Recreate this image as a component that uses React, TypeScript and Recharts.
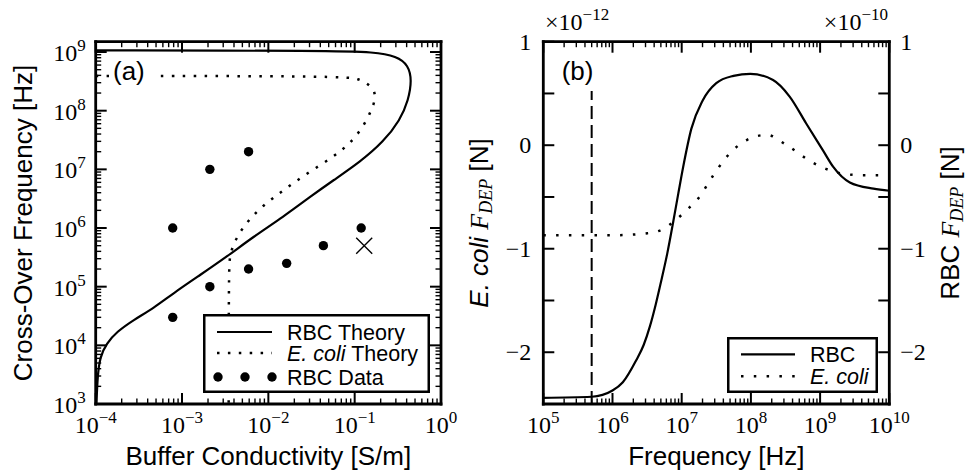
import React from 'react';
import { ComposedChart, Line, Scatter, XAxis, YAxis, Legend, ReferenceLine } from 'recharts';

const SANS = '"Liberation Sans", Arial, Helvetica, sans-serif';
const SERIF = '"Liberation Serif", "Times New Roman", serif';

// ---- panel (a): cross-over frequency vs buffer conductivity ----
const rbcTheorySigma = [1.02e-4, 1.05e-4, 1.12e-4, 1.34e-4, 1.75e-4, 2.73e-4, 4.65e-4, 7.9e-4, 1.62e-3, 3.3e-3, 6.7e-3, 0.0149, 0.0304, 0.0566, 0.1156, 0.215, 0.336, 0.419, 0.459, 0.419, 0.308, 0.165, 0.0566, 1e-4];
const rbcTheoryFreq = [1e3, 2.9e3, 6.4e3, 1.08e4, 1.7e4, 2.7e4, 4.27e4, 7.7e4, 1.58e5, 3.24e5, 7.1e5, 1.55e6, 3.4e6, 6.5e6, 1.34e7, 2.94e7, 6.9e7, 1.51e8, 3.3e8, 5.96e8, 8.5e8, 1.0e9, 1.05e9, 1.07e9];

const ecoliTheorySigma = [1e-4, 0.081, 0.11, 0.138, 0.172, 0.172, 0.158, 0.126, 0.0885, 0.0566, 0.0279, 0.0149, 8.75e-3, 5.86e-3, 4.3e-3, 3.6e-3, 3.48e-3, 3.47e-3];
const ecoliTheoryFreq = [3.9e8, 3.9e8, 3.44e8, 2.98e8, 2.23e8, 1.51e8, 1.05e8, 5.3e7, 2.76e7, 1.63e7, 8.5e6, 4.4e6, 2.45e6, 1.36e6, 7.1e5, 3.7e5, 2.18e5, 1e3];

const rbcDataSigma = [7.8e-4, 7.8e-4, 2.1e-3, 2.1e-3, 5.9e-3, 5.9e-3, 0.0163, 0.0434, 0.119];
const rbcDataFreq = [3e4, 1e6, 1e5, 1e7, 2e5, 2e7, 2.5e5, 5e5, 1e6];
const outlierSigma = [0.129];
const outlierFreq = [5e5];

// ---- panel (b): DEP force vs frequency ----
const rbcForceFreq = [1e5, 5e5, 1e6, 1.41e6, 2.19e6, 2.82e6, 3.47e6, 4.17e6, 4.9e6, 6.17e6, 7.59e6, 8.91e6, 1.05e7, 1.38e7, 2.0e7, 3.16e7, 5.6e7, 9.8e7, 2.09e8, 3.63e8, 6.3e8, 1.1e9, 1.55e9, 2.69e9, 5.9e9, 1e10];
const rbcForce = [-2.44, -2.43, -2.37, -2.29, -2.08, -1.93, -1.75, -1.55, -1.35, -1.05, -0.73, -0.47, -0.21, 0.16, 0.43, 0.6, 0.67, 0.69, 0.63, 0.47, 0.21, -0.05, -0.21, -0.36, -0.42, -0.44]; // x1e-10 N

const ecoliForceFreq = [1e5, 1e6, 3.2e6, 5.4e6, 7.6e6, 1.3e7, 1.66e7, 2.8e7, 4.5e7, 8.7e7, 1.7e8, 3.3e8, 7.9e8, 1.95e9, 4e9, 1e10];
const ecoliForce = [-0.87, -0.87, -0.85, -0.81, -0.74, -0.6, -0.53, -0.3, -0.11, 0.05, 0.1, 0.0, -0.17, -0.27, -0.29, -0.29]; // x1e-12 N

const markerFreq = 5e5;
const markerTop = 0.53;

// tick label text
const forceTicks = [-2.5, -2, -1.5, -1, -0.5, 0, 0.5, 1];
const forceLabels: Record<string, string> = { '-2': '−2', '-1': '−1', '0': '0', '1': '1' };

const logTicks = (lo: number, hi: number) => {
  const t: number[] = [];
  for (let e = lo; e < hi; e++) for (let m = 1; m < 10; m++) t.push(m * 10 ** e);
  t.push(10 ** hi);
  return t;
};
const sigmaTicks = logTicks(-4, 0);
const freqTicksA = logTicks(3, 9);
const freqTicksB = logTicks(5, 10);

const rbcTheory = rbcTheorySigma.map((s, i) => ({ sigma: s, freq: rbcTheoryFreq[i] }));
const ecoliTheory = ecoliTheorySigma.map((s, i) => ({ sigma: s, freq: ecoliTheoryFreq[i] }));
const rbcData = rbcDataSigma.map((s, i) => ({ sigma: s, freq: rbcDataFreq[i] }));
const outlier = outlierSigma.map((s, i) => ({ sigma: s, freq: outlierFreq[i] }));
const rbcForceData = rbcForceFreq.map((f, i) => ({ freq: f, force: rbcForce[i] }));
const ecoliForceData = ecoliForceFreq.map((f, i) => ({ freq: f, force: ecoliForce[i] }));

const isDecade = (v: number) => Math.abs(Math.log10(v) - Math.round(Math.log10(v))) < 1e-6;
const supText = (e: number) => (e < 0 ? `−${-e}` : `${e}`);

function Pow10({ x, y, exp, anchor, prefix = '' }: any) {
  return (
    <text x={x} y={y} textAnchor={anchor} fontFamily={SERIF} fontSize={24} fill="#000">
      {prefix}10
      <tspan dy={-10} fontSize={17}>{supText(exp)}</tspan>
    </text>
  );
}

const MAJOR = 11;
const MINOR = 5.5;
const TICK_COLOR = '#000';

// side: where the axis is; ticks point into the plot
const makeTick = (side: 'bottom' | 'top' | 'left' | 'right', kind: 'log' | 'lin', label: boolean) => (p: any) => {
  const v = Number(p.payload.value);
  const major = kind === 'lin' ? true : isDecade(v);
  const len = major ? MAJOR : MINOR;
  const x = Number(p.x);
  const y = Number(p.y);
  const sw = major ? 2 : 1.4;
  let d = '';
  if (side === 'bottom') d = `M${x},${y}V${y - len}`;
  else if (side === 'top') d = `M${x},${y}V${y + len}`;
  else if (side === 'left') d = `M${x},${y}H${x + len}`;
  else d = `M${x},${y}H${x - len}`;
  let text = null;
  if (label && kind === 'log' && major) {
    const e = Math.round(Math.log10(v));
    if (side === 'bottom') text = <Pow10 x={x} y={y + 29} exp={e} anchor="middle" />;
    if (side === 'left') text = <Pow10 x={x - 10} y={y + 9} exp={e} anchor="end" />;
  }
  if (label && kind === 'lin' && forceLabels[String(v)] !== undefined) {
    const s = forceLabels[String(v)];
    text = side === 'left'
      ? <text x={x - 12} y={y + 8} textAnchor="end" fontFamily={SERIF} fontSize={24} fill="#000">{s}</text>
      : <text x={x + 11} y={y + 8} textAnchor="start" fontFamily={SERIF} fontSize={24} fill="#000">{s}</text>;
  }
  return (
    <g>
      <path d={d} style={{ stroke: TICK_COLOR, strokeWidth: sw, fill: 'none' }} />
      {text}
    </g>
  );
};

const spine = { stroke: '#000', strokeWidth: 2.8, strokeLinecap: 'square' as const };

const DOT_A = '2.5 8.4';
const DOT_B = '2.5 10.3';

function LegendA() {
  return (
    <svg width={227} height={79} style={{ display: 'block' }}>
      <rect x={1.25} y={1.25} width={224.5} height={76.5} fill="#fff" stroke="#000" strokeWidth={2.5} />
      <line x1={14} x2={69} y1={18} y2={18} stroke="#000" strokeWidth={2.2} />
      <line x1={14} x2={69} y1={39} y2={39} stroke="#000" strokeWidth={2.5} strokeDasharray={DOT_A} />
      {[15, 42, 69].map((cx) => <circle key={cx} cx={cx} cy={63} r={4.7} fill="#000" />)}
      <text x={84} y={25.5} fontFamily={SANS} fontSize={21.5}>RBC Theory</text>
      <text x={84} y={46.5} fontFamily={SANS} fontSize={21.5}><tspan fontStyle="italic">E. coli</tspan><tspan> Theory</tspan></text>
      <text x={84} y={70.5} fontFamily={SANS} fontSize={21.5}>RBC Data</text>
    </svg>
  );
}

function LegendB() {
  return (
    <svg width={151} height={56} style={{ display: 'block' }}>
      <rect x={1.25} y={1.25} width={148.5} height={53.5} fill="#fff" stroke="#000" strokeWidth={2.5} />
      <line x1={14} x2={68} y1={17.3} y2={17.3} stroke="#000" strokeWidth={2.2} />
      <line x1={14} x2={68} y1={39.3} y2={39.3} stroke="#000" strokeWidth={2.5} strokeDasharray={DOT_B} />
      <text x={83} y={24.8} fontFamily={SANS} fontSize={21.5}>RBC</text>
      <text x={83} y={46.8} fontFamily={SANS} fontSize={21.5} fontStyle="italic">E. coli</text>
    </svg>
  );
}

const dotShape = (p: any) => <circle cx={p.cx} cy={p.cy} r={4.7} fill="#000" />;

const crossShape = (p: any) => (
  <path d={`M${p.cx - 8},${p.cy - 8}L${p.cx + 8},${p.cy + 8}M${p.cx - 8},${p.cy + 8}L${p.cx + 8},${p.cy - 8}`} stroke="#000" strokeWidth={1.4} fill="none" />
);

function PanelA() {
  return (
    <ComposedChart width={480} height={472} margin={{ top: 11.7, right: 9, bottom: 38, left: 55.7 }}>
      <XAxis xAxisId="b" orientation="bottom" dataKey="sigma" type="number" scale="log" domain={[1e-4, 1]} allowDataOverflow ticks={sigmaTicks} interval={0} height={30} tickSize={0} tickMargin={0} tickLine={false} axisLine={spine} tick={makeTick('bottom', 'log', true)} />
      <XAxis xAxisId="t" orientation="top" dataKey="sigma" type="number" scale="log" domain={[1e-4, 1]} allowDataOverflow ticks={sigmaTicks} interval={0} height={30} tickSize={0} tickMargin={0} tickLine={false} axisLine={spine} tick={makeTick('top', 'log', false)} />
      <YAxis yAxisId="l" orientation="left" dataKey="freq" type="number" scale="log" domain={[1e3, 1.5e9]} allowDataOverflow ticks={freqTicksA} interval={0} width={40} tickSize={0} tickMargin={0} tickLine={false} axisLine={spine} tick={makeTick('left', 'log', true)} />
      <YAxis yAxisId="r" orientation="right" dataKey="freq" type="number" scale="log" domain={[1e3, 1.5e9]} allowDataOverflow ticks={freqTicksA} interval={0} width={30} tickSize={0} tickMargin={0} tickLine={false} axisLine={spine} tick={makeTick('right', 'log', false)} />
      <Line xAxisId="b" yAxisId="l" data={rbcTheory} dataKey="freq" type="basis" stroke="#000" strokeWidth={2.2} dot={false} isAnimationActive={false} />
      <Line xAxisId="b" yAxisId="l" data={ecoliTheory} dataKey="freq" type="basis" stroke="#000" strokeWidth={2.5} strokeDasharray={DOT_A} dot={false} isAnimationActive={false} />
      <Scatter xAxisId="b" yAxisId="l" data={rbcData} dataKey="freq" shape={dotShape} isAnimationActive={false} />
      <Scatter xAxisId="b" yAxisId="l" data={outlier} dataKey="freq" shape={crossShape} isAnimationActive={false} />
      <Legend layout="vertical" align="center" verticalAlign="middle" content={LegendA} wrapperStyle={{ left: 203, top: 314, width: 227, height: 79 }} />
    </ComposedChart>
  );
}

function PanelB() {
  return (
    <ComposedChart width={489} height={472} margin={{ top: 11.7, right: 39.7, bottom: 38, left: 23.3 }}>
      <XAxis xAxisId="b" orientation="bottom" dataKey="freq" type="number" scale="log" domain={[1e5, 1e10]} allowDataOverflow ticks={freqTicksB} interval={0} height={30} tickSize={0} tickMargin={0} tickLine={false} axisLine={spine} tick={makeTick('bottom', 'log', true)} />
      <XAxis xAxisId="t" orientation="top" dataKey="freq" type="number" scale="log" domain={[1e5, 1e10]} allowDataOverflow ticks={freqTicksB} interval={0} height={30} tickSize={0} tickMargin={0} tickLine={false} axisLine={spine} tick={makeTick('top', 'log', false)} />
      <YAxis yAxisId="ecoli" orientation="left" type="number" domain={[-2.5, 1]} allowDataOverflow ticks={forceTicks} interval={0} width={40} tickSize={0} tickMargin={0} tickLine={false} axisLine={spine} tick={makeTick('left', 'lin', true)} />
      <YAxis yAxisId="rbc" orientation="right" type="number" domain={[-2.5, 1]} allowDataOverflow ticks={forceTicks} interval={0} width={40} tickSize={0} tickMargin={0} tickLine={false} axisLine={spine} tick={makeTick('right', 'lin', true)} />
      <ReferenceLine xAxisId="b" yAxisId="ecoli" segment={[{ x: markerFreq, y: -2.5 }, { x: markerFreq, y: markerTop }]} stroke="#000" strokeWidth={2} strokeDasharray="13 6" />
      <Line xAxisId="b" yAxisId="rbc" data={rbcForceData} dataKey="force" type="monotone" stroke="#000" strokeWidth={2.2} dot={false} isAnimationActive={false} />
      <Line xAxisId="b" yAxisId="ecoli" data={ecoliForceData} dataKey="force" type="monotone" stroke="#000" strokeWidth={2.5} strokeDasharray={DOT_B} dot={false} isAnimationActive={false} />
      <Legend layout="vertical" align="center" verticalAlign="middle" content={LegendB} wrapperStyle={{ left: 247.3, top: 336.7, width: 151, height: 56 }} />
    </ComposedChart>
  );
}

export default function App() {
  return (
    <div style={{ position: 'absolute', left: 0, top: 0, width: 969, height: 472, background: '#fff' }}>
      <div style={{ position: 'absolute', left: 0, top: 0 }}><PanelA /></div>
      <div style={{ position: 'absolute', left: 480, top: 0 }}><PanelB /></div>
      <svg width={969} height={472} style={{ position: 'absolute', left: 0, top: 0, pointerEvents: 'none' }}>
        <g fontFamily={SANS} fontSize={26} fill="#000">
          <text transform="translate(32,223) rotate(-90)" textAnchor="middle">Cross-Over Frequency [Hz]</text>
          <text x={268.3} y={465} textAnchor="middle">Buffer Conductivity [S/m]</text>
          <text x={716.3} y={465} textAnchor="middle">Frequency [Hz]</text>
          <text transform="translate(488,223) rotate(-90)" textAnchor="middle">
            <tspan fontStyle="italic">E. coli</tspan>{' '}
            <tspan fontFamily={SERIF} fontStyle="italic">F</tspan>
            <tspan fontFamily={SERIF} fontStyle="italic" fontSize={18} dy={4}>DEP</tspan>
            <tspan dy={-4}> [N]</tspan>
          </text>
          <text transform="translate(959,223) rotate(-90)" textAnchor="middle">
            RBC{' '}
            <tspan fontFamily={SERIF} fontStyle="italic">F</tspan>
            <tspan fontFamily={SERIF} fontStyle="italic" fontSize={18} dy={4}>DEP</tspan>
            <tspan dy={-4}> [N]</tspan>
          </text>
          <rect x={109} y={59} width={49} height={32} fill="#fff" />
          <text x={113} y={80}>(a)</text>
          <rect x={557} y={59} width={41} height={32} fill="#fff" />
          <text x={561.7} y={80}>(b)</text>
        </g>
        <Pow10 x={545} y={30} exp={-12} anchor="start" prefix="×" />
        <Pow10 x={888} y={30} exp={-10} anchor="end" prefix="×" />
      </svg>
    </div>
  );
}
